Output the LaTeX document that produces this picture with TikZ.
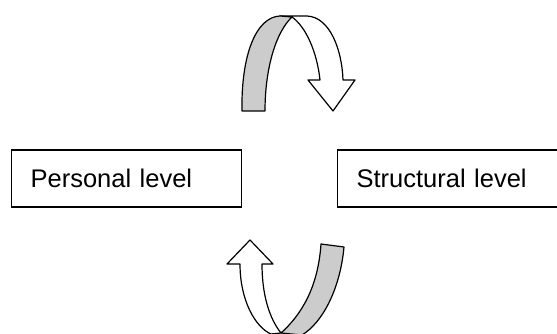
\documentclass[tikz,border=0pt]{standalone}
\usepackage{fontspec}
\setmainfont{Liberation Sans}
\definecolor{bandgray}{RGB}{204,204,204}
\tikzset{
  level/.style={draw, line width=1.2pt, rectangle, minimum width=230pt,
    minimum height=57pt, inner xsep=19pt, text width=192pt, align=left,
    font=\fontsize{25.5}{30}\selectfont},
  band/.style={draw, line width=1.2pt, line join=round}
}
\begin{document}
\begin{tikzpicture}[x=1pt, y=-1pt]
      \useasboundingbox (0,0) rectangle (557,334);
      \draw
        (11,178.5) node[level, anchor=west] (personal){Personal level}
        (337,178.5) node[level, anchor=west] (structural){Structural level};
      % upper arrow, bending over to the right
      \begin{scope}
        \filldraw[band, fill=white] (280,16) -- (307,16)
          .. controls (330,17) and (342,50) .. (343,80) -- (355,80) -- (333,111)
          -- (308,80) -- (320,80) .. controls (317,52) and (306,27) .. (292,17) -- cycle;
        \filldraw[band, fill=bandgray] (242,111) .. controls (241,55) and (256,17) .. (280,16)
          -- (292,17) .. controls (276,32) and (265,68) .. (265,111) -- cycle;
      \end{scope}
      % lower arrow, bending under to the left
      \begin{scope}
        \filldraw[band, fill=white] (240,264) .. controls (240,300) and (255,327) .. (271,334)
          -- (281,333) .. controls (269,318) and (262,294) .. (262,264) -- (273,264)
          -- (250,240) -- (227,264) -- cycle;
        \filldraw[band, fill=bandgray] (281,333) .. controls (301,315) and (318,288) .. (321,244)
          -- (344,247) .. controls (340,290) and (322,323) .. (302,335) -- cycle;
      \end{scope}
    \end{tikzpicture}
\end{document}
